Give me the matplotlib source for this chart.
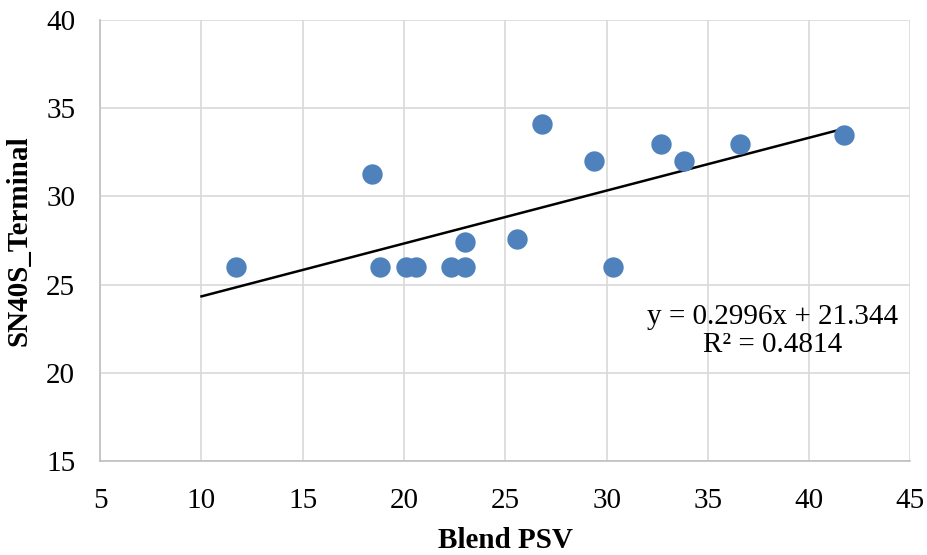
import matplotlib.pyplot as plt
import numpy as np

blend_psv = [11.7, 18.4, 18.8, 20.1, 20.6, 22.3, 23.0, 23.0, 25.6, 26.8, 29.4, 30.3, 32.7, 33.8, 36.6, 41.7]
sn40s_terminal = [26.0, 31.3, 26.0, 26.0, 26.0, 26.0, 27.4, 26.0, 27.6, 34.1, 32.0, 26.0, 33.0, 32.0, 33.0, 33.5]
slope = 0.2996
intercept = 21.344
r_squared = 0.4814
x_ticks = [5, 10, 15, 20, 25, 30, 35, 40, 45]
y_ticks = [15, 20, 25, 30, 35, 40]


def main():
    plt.rcParams["font.family"] = ["Liberation Serif", "DejaVu Serif"]
    fig = plt.figure(figsize=(9.28, 5.55), dpi=100)
    ax = fig.add_axes([0.108, 0.169, 0.873, 0.795])

    ax.scatter(blend_psv, sn40s_terminal, s=215, color="#4F81BD", zorder=3, linewidths=0)

    line_x = np.array([10, max(blend_psv)])
    ax.plot(line_x, slope * line_x + intercept, color="black", linewidth=1.8, zorder=2)

    ax.set_xlim(5, 45)
    ax.set_ylim(15, 40)
    ax.set_xticks(x_ticks)
    ax.set_yticks(y_ticks)
    ax.grid(True, color="#d9d9d9", linewidth=1.2, zorder=0)
    ax.set_axisbelow(True)
    for side in ["top", "right"]:
        ax.spines[side].set_visible(False)
    ax.spines["left"].set_color("#bfbfbf")
    ax.spines["bottom"].set_color("#bfbfbf")
    ax.spines["left"].set_linewidth(1.2)
    ax.spines["bottom"].set_linewidth(1.2)
    ax.tick_params(axis="y", length=0, labelsize=21, pad=18)
    ax.tick_params(axis="x", length=0, labelsize=21, pad=19)

    ax.set_xlabel("Blend PSV", fontsize=21, fontweight="bold", labelpad=10)
    ax.set_ylabel("SN40S_Terminal", fontsize=21, fontweight="bold", labelpad=10)

    ax.text(38.2, 22.4, f"y = {slope}x + {intercept}\nR² = {r_squared}",
            fontsize=21, ha="center", va="center", linespacing=1.1)

    fig.savefig("out.png", dpi=100)
    plt.close(fig)


if __name__ == "__main__":
    main()
